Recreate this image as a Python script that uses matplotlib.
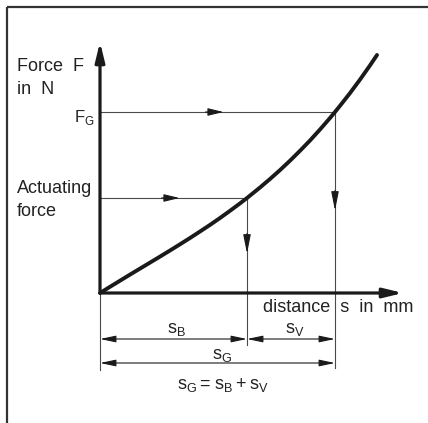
import numpy as np
import matplotlib
matplotlib.use('Agg')
import matplotlib.pyplot as plt

plt.rcParams['font.family'] = ['Liberation Sans', 'DejaVu Sans']
plt.rcParams['mathtext.fontset'] = 'custom'
plt.rcParams['mathtext.rm'] = 'Liberation Sans'

# Kennlinie Kraft ueber Weg (Einheiten frei, Ursprung = Achsenursprung)
s_curve = [0, 10, 20, 30, 40, 50, 60, 70, 80, 90, 100, 110, 120, 130, 140,
           147, 160, 170, 180, 190, 200, 210, 220, 230, 235, 240, 250, 260, 270, 277]
F_curve = [0, 6.2, 12.3, 18.4, 24.4, 30.4, 36.4, 42.5, 48.7, 55.0, 61.5, 68.1,
           75.0, 82.2, 89.6, 95.0, 105.5, 114.0, 122.9, 132.3, 142.2, 152.5,
           163.5, 175.0, 181.0, 187.2, 199.9, 213.4, 227.6, 238.0]

s_B = 147        # Betaetigungsweg
s_G = 235        # Gesamtweg
F_act = 95       # Betaetigungskraft
F_G = 181        # Gesamtkraft

s_max = 303      # Ende x-Achse
F_max = 251      # Ende y-Achse

ink = '#1a1a1a'
thin = '#4a4a4a'
txt = '#222222'

fig = plt.figure(figsize=(4.28, 4.23), dpi=100)
ax = fig.add_axes([0, 0, 1, 1])
ax.set_xlim(-100, 328)
ax.set_ylim(-130, 293)
ax.axis('off')


def arrow(x0, y0, x1, y1, lw, color, hl, hw, style='-|>'):
    ax.annotate('', xy=(x1, y1), xytext=(x0, y0),
                arrowprops=dict(arrowstyle=f'{style},head_length={hl},head_width={hw}',
                                lw=lw, color=color, shrinkA=0, shrinkB=0,
                                mutation_scale=1))


# Rahmen
ax.plot([-93, 328], [286, 286], color='#333333', lw=1.6, solid_capstyle='butt')
ax.plot([-93, -93], [286, -130], color='#333333', lw=1.6, solid_capstyle='butt')

# Achsen
arrow(0, 0, 0, F_max, 2.3, ink, 11.5, 2.8)
arrow(0, 0, s_max, 0, 2.3, ink, 11.5, 2.8)

# Hilfslinien mit Pfeilen
ax.plot([0, s_B], [F_act, F_act], color=thin, lw=0.8)
ax.plot([0, s_G], [F_G, F_G], color=thin, lw=0.8)
ax.plot([s_B, s_B], [F_act, -52], color=thin, lw=0.8)
ax.plot([s_G, s_G], [F_G, -75], color=thin, lw=0.8)
ax.plot([0, 0], [0, -77], color=thin, lw=0.8)

L = 12
arrow(s_B / 2 - L, F_act, s_B / 2 + L / 2, F_act, 0.8, ink, 9.5, 2.3)
arrow(s_G / 2 - L, F_G, s_G / 2 + L / 2, F_G, 0.8, ink, 9.5, 2.3)
arrow(s_B, F_act / 2 + L, s_B, F_act / 2 - L / 2 - 2, 0.8, ink, 11.5, 2.3)
arrow(s_G, F_G / 2 + L, s_G, F_G / 2 - L / 2 - 2, 0.8, ink, 11.5, 2.3)

# Kennlinie
ax.plot(s_curve, F_curve, color=ink, lw=2.8, solid_capstyle='round',
        solid_joinstyle='round')

# Bemassung
y1, y2 = -46, -70
arrow(0, y1, s_B, y1, 0.8, ink, 9.5, 2.0, style='<|-|>')
arrow(s_B, y1, s_G, y1, 0.8, ink, 9.5, 2.0, style='<|-|>')
arrow(0, y2, s_G, y2, 0.8, ink, 9.5, 2.0, style='<|-|>')

# Beschriftung
ax.text(-83, 227, 'Force  F', fontsize=13, color=txt, va='center', ha='left')
ax.text(-83, 204, 'in  N', fontsize=13, color=txt, va='center', ha='left')
ax.text(-83, 105, 'Actuating', fontsize=13, color=txt, va='center', ha='left')
ax.text(-83, 82, 'force', fontsize=13, color=txt, va='center', ha='left')
ax.text(-5, 176, r'F$_\mathregular{G}$', fontsize=12, color=txt, va='center', ha='right')
ax.text(163, -15, 'distance  s  in  mm', fontsize=13, color=txt, va='center', ha='left')
ax.text(s_B / 2 + 3, -37, r's$_\mathregular{B}$', fontsize=13, color=txt, va='center', ha='center')
ax.text((s_B + s_G) / 2 + 4, -37, r's$_\mathregular{V}$', fontsize=13, color=txt, va='center', ha='center')
ax.text(s_G / 2 + 5, -62, r's$_\mathregular{G}$', fontsize=13, color=txt, va='center', ha='center')
ax.text(s_G / 2 + 6, -92, r'$\mathregular{s_G = s_B + s_V}$',
        fontsize=13, color=txt, va='center', ha='center')

fig.savefig('out.png', dpi=100)
